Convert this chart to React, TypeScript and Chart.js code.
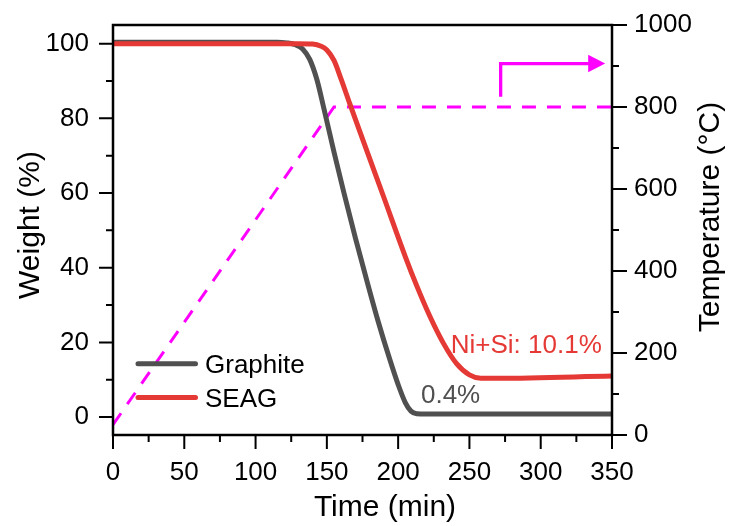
import React, { useEffect, useRef } from "react";
import { Chart, registerables } from "chart.js";

Chart.register(...registerables);

// ---------- data ----------
const graphiteTime = [0, 115, 122, 128, 133, 138, 143, 148, 155, 162, 170, 178, 186, 194, 200, 205, 209, 213, 220, 260, 300, 350];
const graphiteWeight = [100.4, 100.4, 100.2, 99.7, 98.6, 95.8, 90.4, 82.5, 71, 60, 48, 36.6, 25.6, 15.6, 8.7, 3.9, 1.6, 0.9, 0.8, 0.8, 0.8, 0.8];

const seagTime = [0, 130, 140, 146, 150, 155, 160, 166, 175, 190, 205, 213, 222, 231.7, 241, 250, 258, 270, 350];
const seagWeight = [100, 100, 99.9, 99.3, 98.3, 95.5, 90.5, 84, 74.5, 58.8, 43, 35.2, 27.2, 19.8, 14.3, 11.3, 10.4, 10.4, 11.0];

const tempTime = [0, 155, 350];
const tempValue = [25, 800, 800];

const xMajorTicks = [0, 50, 100, 150, 200, 250, 300, 350];
const xMinorTicks = [25, 75, 125, 175, 225, 275, 325];
const yMajorTicks = [0, 20, 40, 60, 80, 100];
const yMinorTicks = [10, 30, 50, 70, 90];
const y2MajorTicks = [0, 200, 400, 600, 800, 1000];
const y2MinorTicks = [100, 300, 500, 700, 900];

const xTitle = "Time (min)";
const yTitle = "Weight (%)";
const y2Title = "Temperature (°C)";

const legendItems = ["Graphite", "SEAG"];

// annotation texts anchored in data units (x: min, y: weight %)
const annoTexts = ["Ni+Si: 10.1%", "0.4%"];
const annoX = [236.9, 216.0];
const annoY = [17.1, 3.7];

// arrow pointing to the right axis (x: min, y: °C)
const arrowX = [271.9, 345.2];
const arrowY = [825, 906];

// ---------- styles ----------
const FONT = '"Liberation Sans", Arial, Helvetica, sans-serif';
const GRAY = "#505050";
const RED = "#e53935";
const MAGENTA = "#ff00ff";
const seriesColors: Record<string, string> = { Graphite: GRAY, SEAG: RED };

const overlayPlugin = {
  id: "overlay",
  afterDraw(chart: any) {
    const ctx: CanvasRenderingContext2D = chart.ctx;
    const { left, right, top, bottom } = chart.chartArea;
    const xs = chart.scales.x;
    const ys = chart.scales.y;
    const y2 = chart.scales.y2;
    ctx.save();

    // arrow
    const ax0 = xs.getPixelForValue(arrowX[0]);
    const ax1 = xs.getPixelForValue(arrowX[1]);
    const ay0 = y2.getPixelForValue(arrowY[0]);
    const ay1 = y2.getPixelForValue(arrowY[1]);
    ctx.strokeStyle = MAGENTA;
    ctx.fillStyle = MAGENTA;
    ctx.lineWidth = 3.3;
    ctx.lineJoin = "miter";
    ctx.beginPath();
    ctx.moveTo(ax0, ay0);
    ctx.lineTo(ax0, ay1);
    ctx.lineTo(ax1 - 14, ay1);
    ctx.stroke();
    ctx.beginPath();
    ctx.moveTo(ax1, ay1);
    ctx.lineTo(ax1 - 17, ay1 - 8.7);
    ctx.lineTo(ax1 - 17, ay1 + 8.7);
    ctx.closePath();
    ctx.fill();

    // frame
    ctx.strokeStyle = "#000";
    ctx.lineWidth = 2.5;
    ctx.lineCap = "square";
    ctx.beginPath();
    ctx.moveTo(left, bottom);
    ctx.lineTo(left, top);
    ctx.lineTo(right, top);
    ctx.lineTo(right, bottom);
    ctx.lineTo(left, bottom);
    ctx.stroke();

    // ticks
    ctx.lineCap = "butt";
    ctx.lineWidth = 2;
    const MAJ = 14;
    const MIN = 7;
    ctx.beginPath();
    xMajorTicks.forEach((v) => {
      const p = xs.getPixelForValue(v);
      ctx.moveTo(p, bottom);
      ctx.lineTo(p, bottom + MAJ);
    });
    xMinorTicks.forEach((v) => {
      const p = xs.getPixelForValue(v);
      ctx.moveTo(p, bottom);
      ctx.lineTo(p, bottom + MIN);
    });
    yMajorTicks.forEach((v) => {
      const p = ys.getPixelForValue(v);
      ctx.moveTo(left, p);
      ctx.lineTo(left - MAJ, p);
    });
    yMinorTicks.forEach((v) => {
      const p = ys.getPixelForValue(v);
      ctx.moveTo(left, p);
      ctx.lineTo(left - MIN, p);
    });
    y2MajorTicks.forEach((v) => {
      const p = y2.getPixelForValue(v);
      ctx.moveTo(right, p);
      ctx.lineTo(right + MAJ + 1, p);
    });
    y2MinorTicks.forEach((v) => {
      const p = y2.getPixelForValue(v);
      ctx.moveTo(right, p);
      ctx.lineTo(right + MIN, p);
    });
    ctx.stroke();

    // tick labels
    ctx.fillStyle = "#000";
    ctx.font = `26px ${FONT}`;
    ctx.textAlign = "right";
    ctx.textBaseline = "middle";
    yMajorTicks.forEach((v) => {
      ctx.fillText(String(v), left - 24, ys.getPixelForValue(v));
    });
    ctx.textAlign = "left";
    y2MajorTicks.forEach((v) => {
      ctx.fillText(String(v), right + 22, y2.getPixelForValue(v));
    });
    ctx.textAlign = "center";
    ctx.textBaseline = "alphabetic";
    xMajorTicks.forEach((v) => {
      ctx.fillText(String(v), xs.getPixelForValue(v), bottom + 45);
    });

    // axis titles
    ctx.font = `30px ${FONT}`;
    ctx.textAlign = "center";
    ctx.textBaseline = "alphabetic";
    ctx.fillText(xTitle, 385, bottom + 81);
    ctx.save();
    ctx.translate(38.5, 225);
    ctx.rotate(-Math.PI / 2);
    ctx.fillText(yTitle, 0, 0);
    ctx.restore();
    ctx.save();
    ctx.translate(719, 217);
    ctx.rotate(-Math.PI / 2);
    ctx.fillText(y2Title, 0, 0);
    ctx.restore();

    // legend
    ctx.font = `26px ${FONT}`;
    ctx.textAlign = "left";
    ctx.textBaseline = "alphabetic";
    legendItems.forEach((name, i) => {
      const ly = 363.8 + i * 33.8;
      ctx.strokeStyle = seriesColors[name];
      ctx.lineWidth = 5;
      ctx.lineCap = "round";
      ctx.beginPath();
      ctx.moveTo(138, ly);
      ctx.lineTo(195.5, ly);
      ctx.stroke();
      ctx.fillStyle = "#000";
      ctx.fillText(name, 205, ly + 9);
    });

    // annotations
    annoTexts.forEach((t, i) => {
      ctx.fillStyle = i === 0 ? RED : GRAY;
      ctx.fillText(t, xs.getPixelForValue(annoX[i]), ys.getPixelForValue(annoY[i]));
    });

    ctx.restore();
  },
};

export default function App() {
  const ref = useRef<HTMLCanvasElement>(null);
  useEffect(() => {
    if (!ref.current) return;
    const hidden = { display: false };
    const chart = new Chart(ref.current, {
      type: "line",
      data: {
        datasets: [
          {
            label: "SEAG",
            data: seagTime.map((t, i) => ({ x: t, y: seagWeight[i] })),
            borderColor: RED,
            borderWidth: 5,
            pointRadius: 0,
            cubicInterpolationMode: "monotone",
            borderJoinStyle: "round",
            xAxisID: "x",
            yAxisID: "y",
          },
          {
            label: "Graphite",
            data: graphiteTime.map((t, i) => ({ x: t, y: graphiteWeight[i] })),
            borderColor: GRAY,
            borderWidth: 5,
            pointRadius: 0,
            cubicInterpolationMode: "monotone",
            borderJoinStyle: "round",
            xAxisID: "x",
            yAxisID: "y",
          },
          {
            label: "Temperature",
            data: tempTime.map((t, i) => ({ x: t, y: tempValue[i] })),
            borderColor: MAGENTA,
            borderWidth: 3,
            borderDash: [14, 11],
            pointRadius: 0,
            tension: 0,
            xAxisID: "x",
            yAxisID: "y2",
          },
        ],
      },
      options: {
        responsive: false,
        animation: false,
        events: [],
        layout: { padding: { top: 25, left: 0, right: 0, bottom: 0 } },
        plugins: {
          legend: { display: false },
          tooltip: { enabled: false },
          title: { display: false },
        },
        scales: {
          x: {
            type: "linear",
            position: "bottom",
            min: 0,
            max: 350,
            ticks: hidden,
            grid: hidden,
            border: hidden,
            afterFit: (s: any) => {
              s.height = 91;
            },
          },
          y: {
            type: "linear",
            position: "left",
            min: -4.8,
            max: 105,
            ticks: hidden,
            grid: hidden,
            border: hidden,
            afterFit: (s: any) => {
              s.width = 113;
            },
          },
          y2: {
            type: "linear",
            position: "right",
            min: 0,
            max: 1000,
            ticks: hidden,
            grid: hidden,
            border: hidden,
            afterFit: (s: any) => {
              s.width = 121;
            },
          },
        },
      } as any,
      plugins: [overlayPlugin],
    });
    return () => chart.destroy();
  }, []);
  return (
    <canvas
      ref={ref}
      width={733}
      height={526}
      style={{ position: "absolute", left: 0, top: 0, width: "733px", height: "526px", background: "#fff" }}
    />
  );
}
